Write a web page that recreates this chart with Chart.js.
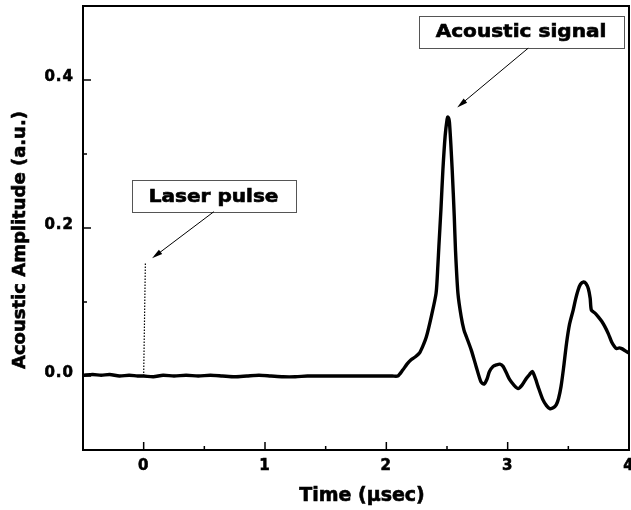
<!DOCTYPE html>
<html>
<head>
<meta charset="utf-8">
<script src="https://cdn.jsdelivr.net/npm/chart.js@4/dist/chart.umd.min.js"></script>
<style>
  html, body { margin: 0; padding: 0; background: #fff; }
  #wrap { width: 631px; height: 510px; }
</style>
</head>
<body>
<div id="wrap"><canvas id="SignalChart" width="631" height="510"></canvas></div>
<script>
// acoustic trace (time in usec, amplitude in a.u.)
const timeUs = [
  -0.5, -0.42, -0.35, -0.28, -0.2, -0.12, -0.05, 0.0, 0.08, 0.16, 0.25, 0.35, 0.45,
  0.55, 0.65, 0.75, 0.85, 0.95, 1.05, 1.15, 1.25, 1.35, 1.45, 1.55, 1.65, 1.75,
  1.85, 1.95, 2.05, 2.094, 2.135, 2.17, 2.204, 2.24, 2.273, 2.30, 2.33, 2.37,
  2.41, 2.425, 2.433, 2.45, 2.466, 2.485, 2.50, 2.507, 2.52, 2.543, 2.56, 2.57,
  2.59, 2.617, 2.64, 2.66, 2.70, 2.74, 2.78, 2.805, 2.83, 2.85, 2.88, 2.907,
  2.935, 2.962, 2.99, 3.017, 3.05, 3.086, 3.12, 3.155, 3.18, 3.204, 3.23, 3.25,
  3.29, 3.32, 3.347, 3.375, 3.40, 3.42, 3.44, 3.46, 3.485, 3.51, 3.54, 3.56,
  3.58, 3.60, 3.625, 3.645, 3.665, 3.68, 3.69, 3.72, 3.747, 3.775, 3.80, 3.83,
  3.857, 3.88, 3.898, 3.92, 3.94, 3.97, 4.0
];
const amplitude = [
  0.001, 0.002, 0.001, 0.002, 0.000, 0.001, 0.000, 0.000, -0.001, 0.001, 0.000, 0.001, 0.000,
  0.001, 0.000, -0.001, 0.000, 0.001, 0.000, -0.001, -0.001, 0.000, 0.000, 0.000, 0.000, 0.000,
  0.000, 0.000, 0.000, 0.000, 0.008, 0.016, 0.022, 0.026, 0.031, 0.040, 0.053, 0.080,
  0.112, 0.150, 0.175, 0.225, 0.278, 0.325, 0.346, 0.350, 0.343, 0.278, 0.215, 0.170,
  0.112, 0.080, 0.062, 0.053, 0.035, 0.013, -0.008, -0.011, -0.004, 0.006, 0.013, 0.015,
  0.016, 0.013, 0.004, -0.005, -0.012, -0.017, -0.012, -0.003, 0.002, 0.006, -0.004, -0.014,
  -0.032, -0.040, -0.044, -0.043, -0.039, -0.030, -0.014, 0.010, 0.044, 0.070, 0.089, 0.104,
  0.116, 0.124, 0.127, 0.125, 0.118, 0.105, 0.089, 0.085, 0.080, 0.074, 0.067, 0.057,
  0.046, 0.040, 0.037, 0.038, 0.037, 0.034, 0.031
];

// laser trigger marker
const pulseTime = [0.0, 0.014];
const pulseAmp = [0.0, 0.152];

const xTicks = [0, 1, 2, 3, 4];
const yTicks = [0.0, 0.2, 0.4];
const xMinor = [-0.5, 0.5, 1.5, 2.5, 3.5];
const yMinor = [-0.1, 0.1, 0.3, 0.5];

const xTitle = 'Time (\u03bcsec)';
const yTitle = 'Acoustic Amplitude (a.u.)';

// callout labels: box centre and arrow (from -> to), in data units
const callouts = [
  { text: 'Laser pulse', cx: 0.576, cy: 0.243, from: [0.578, 0.222], to: [0.069, 0.159] },
  { text: 'Acoustic signal', cx: 3.11, cy: 0.4655, from: [3.169, 0.443], to: [2.584, 0.363] }
];

const FONT = '"DejaVu Sans", Verdana, sans-serif';

// heavy text: fill plus a thin outline
function boldText(ctx, text, x, y, sx) {
  ctx.save();
  ctx.translate(x, y);
  ctx.scale(sx || 1, 1);
  ctx.lineWidth = 0.6;
  ctx.strokeStyle = '#000';
  ctx.fillStyle = '#000';
  ctx.fillText(text, 0, 0);
  ctx.strokeText(text, 0, 0);
  ctx.restore();
}

const frameAndCallouts = {
  id: 'frameAndCallouts',
  beforeDraw(chart) {
    // the tick labels are set a little wide
    chart.ctx.letterSpacing = '1px';
  },
  afterDatasetsDraw(chart) {
    const { ctx, chartArea: a, scales: { x, y } } = chart;
    ctx.save();
    ctx.strokeStyle = '#000';
    ctx.lineWidth = 2;
    ctx.strokeRect(a.left, a.top, a.right - a.left, a.bottom - a.top);

    // inward ticks, major and minor
    ctx.lineWidth = 1.5;
    ctx.beginPath();
    xTicks.forEach(v => { const px = x.getPixelForValue(v); ctx.moveTo(px, a.bottom); ctx.lineTo(px, a.bottom - 8); });
    xMinor.forEach(v => { const px = x.getPixelForValue(v); ctx.moveTo(px, a.bottom); ctx.lineTo(px, a.bottom - 4); });
    yTicks.forEach(v => { const py = y.getPixelForValue(v); ctx.moveTo(a.left, py); ctx.lineTo(a.left + 8, py); });
    yMinor.forEach(v => { const py = y.getPixelForValue(v); ctx.moveTo(a.left, py); ctx.lineTo(a.left + 4, py); });
    ctx.stroke();

    // axis titles
    ctx.textAlign = 'center';
    ctx.textBaseline = 'middle';
    ctx.letterSpacing = '0px';
    ctx.font = 'bold 19px ' + FONT;
    boldText(ctx, xTitle, (a.left + a.right) / 2 + 6, 496);
    ctx.save();
    ctx.translate(20, (a.top + a.bottom) / 2 + 12);
    ctx.rotate(-Math.PI / 2);
    ctx.font = 'bold 18px ' + FONT;
    boldText(ctx, yTitle, 0, 0);
    ctx.restore();

    ctx.font = 'bold 17px ' + FONT;
    const sx = 1.18;
    callouts.forEach(c => {
      const cx = x.getPixelForValue(c.cx), cy = y.getPixelForValue(c.cy);
      const w = ctx.measureText(c.text).width * sx + 34, h = 32;
      ctx.fillStyle = '#fff';
      ctx.fillRect(cx - w / 2, cy - h / 2, w, h);
      ctx.strokeStyle = '#555';
      ctx.lineWidth = 1;
      ctx.strokeRect(Math.round(cx - w / 2) + 0.5, Math.round(cy - h / 2) + 0.5, Math.round(w), h);
      boldText(ctx, c.text, cx, cy + 1, sx);

      // arrow
      const x0 = x.getPixelForValue(c.from[0]), y0 = y.getPixelForValue(c.from[1]);
      const x1 = x.getPixelForValue(c.to[0]), y1 = y.getPixelForValue(c.to[1]);
      const ang = Math.atan2(y1 - y0, x1 - x0);
      ctx.strokeStyle = '#000';
      ctx.fillStyle = '#000';
      ctx.lineWidth = 1;
      ctx.beginPath();
      ctx.moveTo(x0, y0);
      ctx.lineTo(x1 - 6 * Math.cos(ang), y1 - 6 * Math.sin(ang));
      ctx.stroke();
      ctx.beginPath();
      ctx.moveTo(x1, y1);
      ctx.lineTo(x1 - 11 * Math.cos(ang - 0.25), y1 - 11 * Math.sin(ang - 0.25));
      ctx.lineTo(x1 - 11 * Math.cos(ang + 0.25), y1 - 11 * Math.sin(ang + 0.25));
      ctx.closePath();
      ctx.fill();
    });
    ctx.restore();
  }
};

function noLabelPadding(s) {
  s.paddingTop = 0;
  s.paddingBottom = 0;
  s.paddingLeft = 0;
  s.paddingRight = 0;
}

const tickFont = { family: FONT, weight: 'bold', size: 15 };

const ctx = document.getElementById('SignalChart').getContext('2d');
new Chart(ctx, {
  type: 'line',
  data: {
    datasets: [
      {
        label: 'Acoustic signal',
        data: timeUs.map((t, i) => ({ x: t, y: amplitude[i] })),
        borderColor: '#000',
        borderWidth: 3.4,
        pointRadius: 0,
        tension: 0.25,
        fill: false
      },
      {
        label: 'Laser pulse',
        data: pulseTime.map((t, i) => ({ x: t, y: pulseAmp[i] })),
        borderColor: '#000',
        borderWidth: 1.2,
        borderDash: [1.5, 1.5],
        pointRadius: 0,
        fill: false
      }
    ]
  },
  plugins: [frameAndCallouts],
  options: {
    responsive: false,
    animation: false,
    layout: { padding: { top: 6, right: 2, left: 0, bottom: 0 } },
    plugins: { legend: { display: false }, tooltip: { enabled: false } },
    scales: {
      x: {
        type: 'linear',
        min: -0.5,
        max: 4,
        afterFit(s) { s.height = 60; noLabelPadding(s); },
        afterBuildTicks(s) { s.ticks = xTicks.map(v => ({ value: v })); },
        grid: { display: false, drawTicks: false },
        border: { display: false },
        ticks: {
          padding: 7,
          maxRotation: 0,
          color: '#000',
          textStrokeColor: '#000',
          textStrokeWidth: 0.6,
          font: tickFont,
          callback: v => String(v)
        }
      },
      y: {
        type: 'linear',
        min: -0.1,
        max: 0.5,
        afterFit(s) { s.width = 83; noLabelPadding(s); },
        afterBuildTicks(s) { s.ticks = yTicks.map(v => ({ value: v })); },
        grid: { display: false, drawTicks: false },
        border: { display: false },
        ticks: {
          padding: 9,
          labelOffset: -3,
          color: '#000',
          textStrokeColor: '#000',
          textStrokeWidth: 0.6,
          font: tickFont,
          callback: v => Number(v).toFixed(1)
        }
      }
    }
  }
});
</script>
</body>
</html>
